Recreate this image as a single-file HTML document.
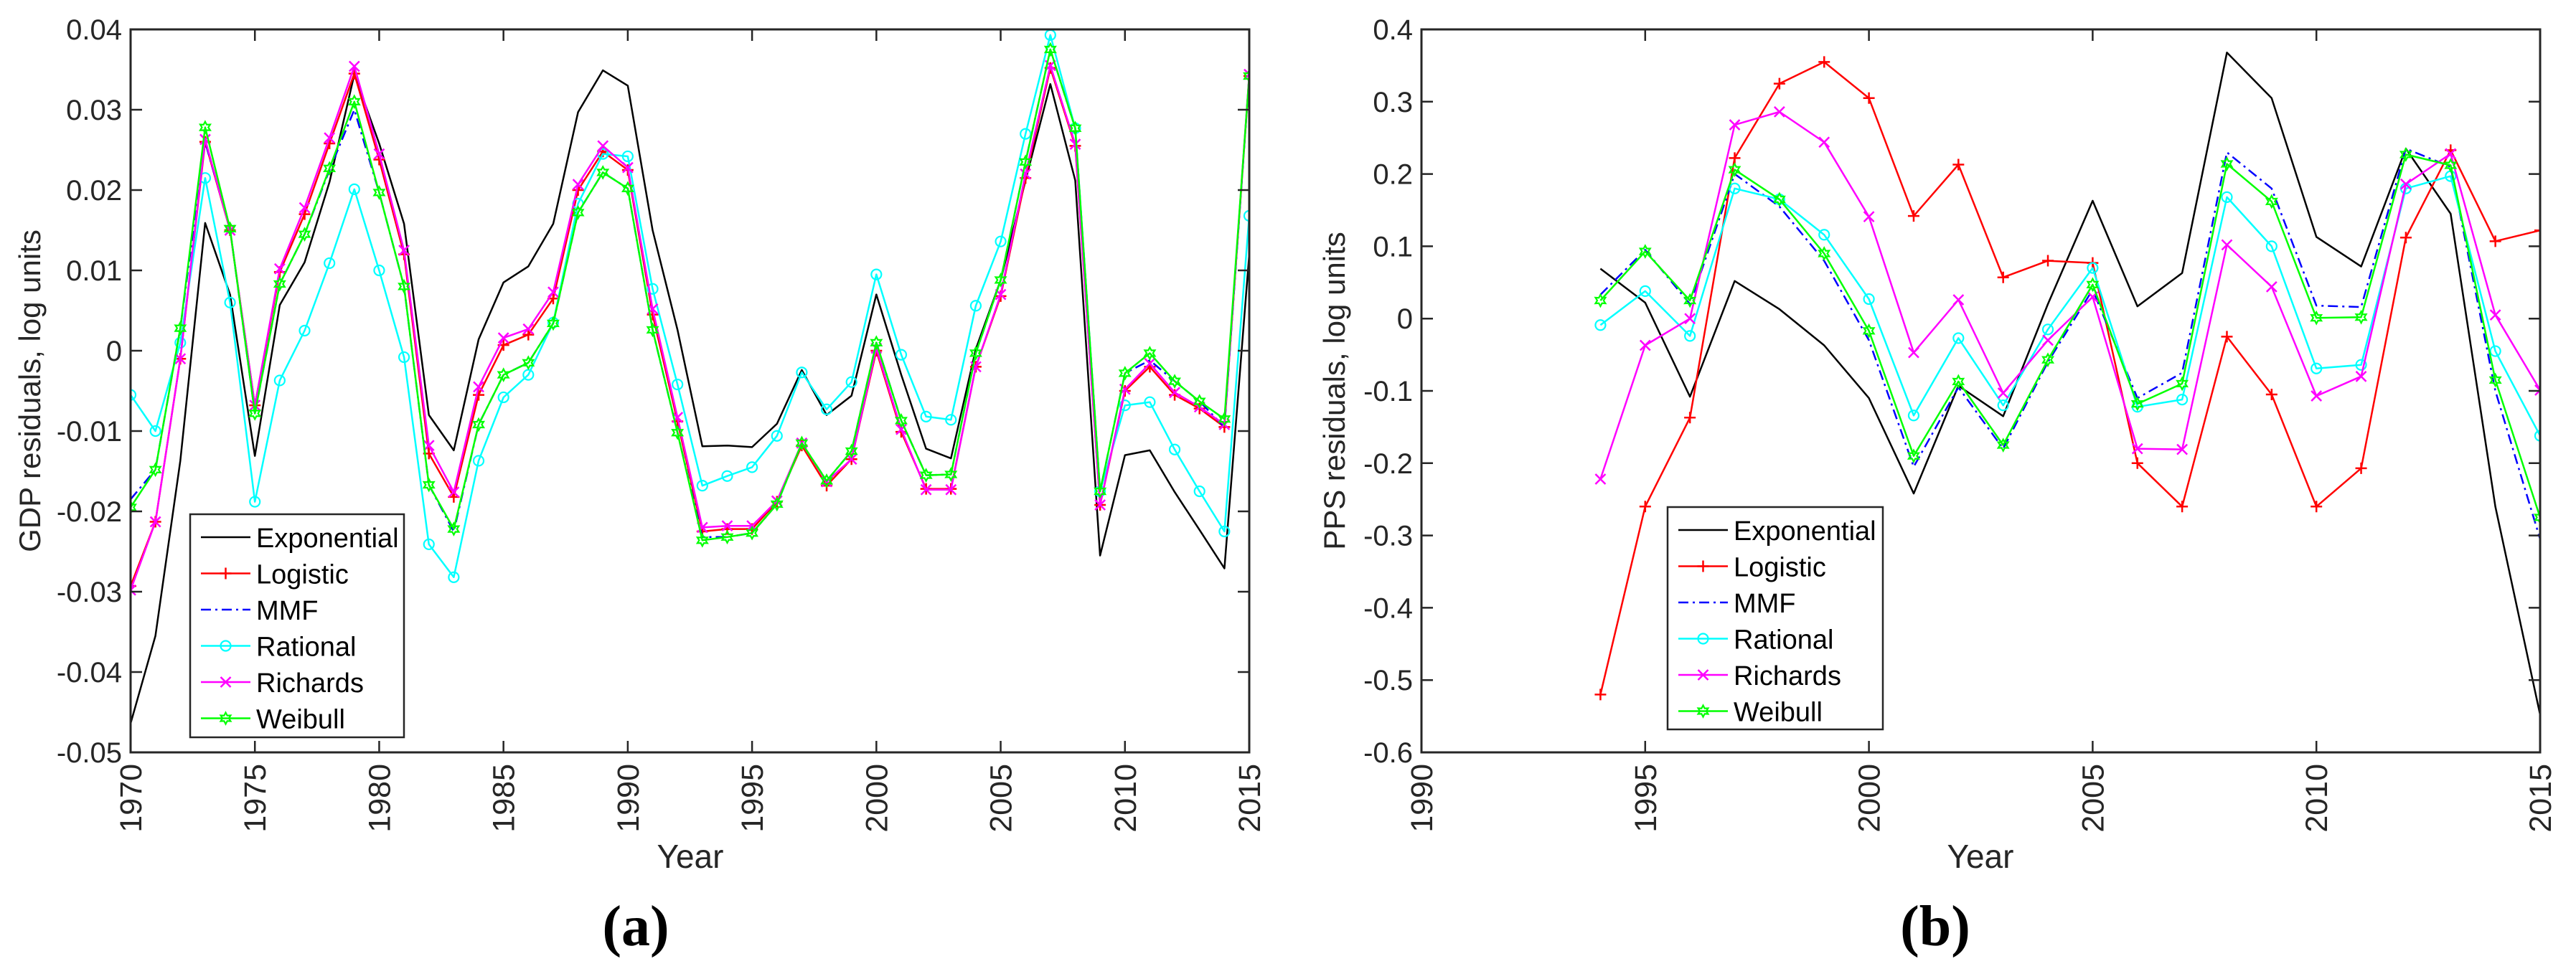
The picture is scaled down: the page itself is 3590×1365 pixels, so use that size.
<!DOCTYPE html>
<html><head><meta charset="utf-8">
<style>
html,body{margin:0;padding:0;background:#fff;}
svg{display:block;font-family:"Liberation Sans",sans-serif;}
</style></head>
<body>
<svg id="fig" width="3590" height="1365" viewBox="0 0 3590 1365" xmlns="http://www.w3.org/2000/svg">
<rect width="3590" height="1365" fill="#fff"/>
</svg>
<script>
// ---- Panel (a) data: GDP residuals ----
const yearsA = [1970,1971,1972,1973,1974,1975,1976,1977,1978,1979,1980,1981,1982,1983,1984,1985,1986,1987,1988,1989,1990,1991,1992,1993,1994,1995,1996,1997,1998,1999,2000,2001,2002,2003,2004,2005,2006,2007,2008,2009,2010,2011,2012,2013,2014,2015];
const expA = [-0.0464,-0.0355,-0.0137,0.0159,0.007,-0.0131,0.0057,0.011,0.021,0.0344,0.0258,0.0158,-0.008,-0.0124,0.0014,0.0085,0.0105,0.0158,0.0297,0.0349,0.033,0.015,0.0026,-0.0119,-0.0118,-0.012,-0.0091,-0.0024,-0.008,-0.0056,0.007,-0.003,-0.0122,-0.0134,0.0002,0.0088,0.0212,0.0332,0.0212,-0.0255,-0.013,-0.0124,-0.0176,-0.0223,-0.0271,0.012];
const logA = [-0.0293,-0.0213,-0.001,0.026,0.015,-0.0068,0.0098,0.017,0.0258,0.0345,0.0238,0.012,-0.0128,-0.0182,-0.0055,0.0007,0.002,0.0065,0.02,0.0248,0.0225,0.0045,-0.0088,-0.0225,-0.0222,-0.0222,-0.0188,-0.0118,-0.0168,-0.0135,0.0,-0.0101,-0.0172,-0.0172,-0.002,0.0068,0.0215,0.0352,0.0255,-0.0192,-0.005,-0.002,-0.0055,-0.0072,-0.0095,0.0342];
const mmfA = [-0.0185,-0.0148,0.0028,0.026,0.0152,-0.0078,0.0083,0.0145,0.0225,0.030,0.0197,0.008,-0.0167,-0.0225,-0.0092,-0.003,-0.0015,0.0034,0.0172,0.0222,0.0202,0.0026,-0.0102,-0.0232,-0.0232,-0.0227,-0.0191,-0.0115,-0.0162,-0.0125,0.001,-0.0087,-0.0155,-0.0154,-0.0003,0.0088,0.0235,0.0375,0.0277,-0.0175,-0.0028,-0.0012,-0.0038,-0.0063,-0.0095,0.0342];
const ratA = [-0.0055,-0.01,0.001,0.0215,0.006,-0.0188,-0.0037,0.0025,0.0109,0.0201,0.01,-0.0008,-0.0241,-0.0282,-0.0137,-0.0058,-0.003,0.0035,0.0183,0.0245,0.0242,0.0077,-0.0042,-0.0168,-0.0156,-0.0145,-0.0106,-0.0027,-0.0073,-0.0039,0.0095,-0.0005,-0.0082,-0.0086,0.0056,0.0136,0.027,0.0393,0.0277,-0.0175,-0.0068,-0.0064,-0.0123,-0.0175,-0.0225,0.0168];
const ricA = [-0.0298,-0.0213,-0.001,0.0263,0.015,-0.0068,0.0102,0.0178,0.0265,0.0354,0.0245,0.0125,-0.0118,-0.0176,-0.0045,0.0016,0.0027,0.0073,0.0207,0.0255,0.0228,0.0052,-0.0083,-0.022,-0.0218,-0.0218,-0.0187,-0.0115,-0.0163,-0.0135,0.0003,-0.0098,-0.0173,-0.0173,-0.002,0.007,0.022,0.0355,0.0257,-0.0192,-0.0048,-0.0016,-0.0052,-0.007,-0.0092,0.0344];
const weiA = [-0.0195,-0.0148,0.0028,0.0278,0.0152,-0.0078,0.0083,0.0145,0.0227,0.031,0.0197,0.008,-0.0167,-0.0222,-0.0092,-0.003,-0.0015,0.0034,0.0172,0.0222,0.0202,0.0026,-0.0102,-0.0236,-0.0232,-0.0227,-0.0191,-0.0115,-0.0162,-0.0125,0.001,-0.0087,-0.0155,-0.0154,-0.0003,0.0088,0.0235,0.0375,0.0277,-0.0175,-0.0028,-0.0003,-0.0038,-0.0063,-0.0085,0.0342];
const xTicksA = [1970,1975,1980,1985,1990,1995,2000,2005,2010,2015];
const yTicksA = [0.04,0.03,0.02,0.01,0,-0.01,-0.02,-0.03,-0.04,-0.05];
const yTickLabelsA = ["0.04","0.03","0.02","0.01","0","-0.01","-0.02","-0.03","-0.04","-0.05"];

// ---- Panel (b) data: PPS residuals ----
const yearsB = [1994,1995,1996,1997,1998,1999,2000,2001,2002,2003,2004,2005,2006,2007,2008,2009,2010,2011,2012,2013,2014,2015];
const expB = [0.069,0.022,-0.108,0.052,0.013,-0.037,-0.11,-0.242,-0.093,-0.135,0.02,0.163,0.017,0.063,0.368,0.305,0.113,0.072,0.235,0.145,-0.26,-0.548];
const logB = [-0.52,-0.26,-0.137,0.222,0.325,0.355,0.305,0.142,0.213,0.057,0.08,0.077,-0.2,-0.26,-0.025,-0.105,-0.26,-0.207,0.112,0.233,0.107,0.122];
const mmfB = [0.033,0.095,0.02,0.2,0.155,0.08,-0.03,-0.205,-0.095,-0.18,-0.06,0.04,-0.11,-0.075,0.23,0.18,0.018,0.016,0.235,0.21,-0.1,-0.305];
const ratB = [-0.009,0.038,-0.024,0.18,0.165,0.116,0.027,-0.134,-0.027,-0.12,-0.015,0.07,-0.122,-0.112,0.168,0.1,-0.069,-0.064,0.18,0.197,-0.045,-0.162];
const ricB = [-0.222,-0.037,0.0,0.268,0.286,0.244,0.141,-0.047,0.026,-0.103,-0.03,0.03,-0.18,-0.181,0.102,0.044,-0.107,-0.08,0.186,0.228,0.005,-0.099];
const weiB = [0.025,0.093,0.025,0.206,0.165,0.09,-0.017,-0.19,-0.087,-0.175,-0.057,0.047,-0.118,-0.09,0.214,0.162,0.001,0.002,0.227,0.212,-0.085,-0.275];
const xTicksB = [1990,1995,2000,2005,2010,2015];
const yTicksB = [0.4,0.3,0.2,0.1,0,-0.1,-0.2,-0.3,-0.4,-0.5,-0.6];
const yTickLabelsB = ["0.4","0.3","0.2","0.1","0","-0.1","-0.2","-0.3","-0.4","-0.5","-0.6"];

const seriesNames = ["Exponential","Logistic","MMF","Rational","Richards","Weibull"];

const NS = "http://www.w3.org/2000/svg";
const svg = document.getElementById('fig');
function mk(tag, attrs, parent){
  const e = document.createElementNS(NS, tag);
  for (const k in attrs) e.setAttribute(k, attrs[k]);
  (parent||svg).appendChild(e);
  return e;
}
const styles = {
  Exponential:{color:"#000000", dash:null, marker:null},
  Logistic:{color:"#ff0000", dash:null, marker:"plus"},
  MMF:{color:"#0000ff", dash:"14,6,3,6", marker:null},
  Rational:{color:"#00ffff", dash:null, marker:"circle"},
  Richards:{color:"#ff00ff", dash:null, marker:"x"},
  Weibull:{color:"#00ff00", dash:null, marker:"hex"}
};
function drawMarker(g, type, x, y, color){
  const s = 8;
  let m;
  if (type==="plus"){
    m = mk('path',{d:`M${x-s},${y}H${x+s}M${x},${y-s}V${y+s}`,stroke:color,'stroke-width':2.5,fill:'none'},g);
  } else if (type==="x"){
    const t=7;
    m = mk('path',{d:`M${x-t},${y-t}L${x+t},${y+t}M${x-t},${y+t}L${x+t},${y-t}`,stroke:color,'stroke-width':2.5,fill:'none'},g);
  } else if (type==="circle"){
    m = mk('circle',{cx:x,cy:y,r:7,stroke:color,'stroke-width':2.2,fill:'none'},g);
  } else if (type==="hex"){
    const r=8, a=[];
    for (let i=0;i<12;i++){
      const ang = -Math.PI/2 + i*Math.PI/6;
      const rr = i%2===0 ? r : r*0.55;
      a.push((x+rr*Math.cos(ang)).toFixed(1)+','+(y+rr*Math.sin(ang)).toFixed(1));
    }
    m = mk('polygon',{points:a.join(' '),stroke:color,'stroke-width':2.2,fill:'none'},g);
  }
  if (m){
    
    
  }
}

function panel(cfg){
  const {id,L,R,T,B,x0,x1,y0,y1,years,series,xTicks,yTicks,yLabels,ylabel,ylabX,legend,letter,letterX,yearX} = cfg;
  const sx = v => L + (v-x0)/(x1-x0)*(R-L);
  const sy = v => T + (y1-v)/(y1-y0)*(B-T);
  const g = mk('g',{});
  
  
  // series
  const clip = mk('clipPath',{id:id+'-clip'},g);
  mk('rect',{x:L,y:T,width:R-L,height:B-T},clip);
  const sg = mk('g',{'clip-path':`url(#${id}-clip)`},g);
  seriesNames.forEach((name,si)=>{
    const st = styles[name];
    const vals = series[si];
    const pts = years.map((yr,i)=>sx(yr).toFixed(1)+','+sy(vals[i]).toFixed(1)).join(' ');
    const pl = mk('polyline',{points:pts,fill:'none',stroke:st.color,'stroke-width':2.5,'stroke-linejoin':'round'},sg);
    if (st.dash) pl.setAttribute('stroke-dasharray', st.dash);
    
    
    if (st.marker) years.forEach((yr,i)=>drawMarker(sg, st.marker, sx(yr), sy(vals[i]), st.color));
  });
  // axes box
  const box = mk('rect',{x:L,y:T,width:R-L,height:B-T,fill:'none',stroke:'#262626','stroke-width':3},g);
  
  
  const tl = 16;
  xTicks.forEach(v=>{
    const x = sx(v);
    mk('path',{d:`M${x},${B}V${B-tl}M${x},${T}V${T+tl}`,stroke:'#262626','stroke-width':2.5},g);
    const t = mk('text',{x:0,y:0,transform:`translate(${x+15},${B+16}) rotate(-90)`,'text-anchor':'end','font-size':43,fill:'#262626'},g);
    t.textContent = v;
    
    
  });
  yTicks.forEach((v,i)=>{
    const y = sy(v);
    mk('path',{d:`M${L},${y}H${L+tl}M${R},${y}H${R-tl}`,stroke:'#262626','stroke-width':2.5},g);
    const t = mk('text',{x:L-12,y:y+14,'text-anchor':'end','font-size':40,fill:'#262626'},g);
    t.textContent = yLabels[i];
    
    
  });
  const xt = mk('text',{x:yearX,y:1210,'text-anchor':'middle','font-size':46,fill:'#262626'},g);
  xt.textContent = 'Year';
  
  
  const yt = mk('text',{x:0,y:0,transform:`translate(${ylabX},${(T+B)/2}) rotate(-90)`,'text-anchor':'middle','font-size':42,fill:'#262626'},g);
  yt.textContent = ylabel;
  
  
  // legend
  const lg = mk('g',{},g);
  
  
  mk('rect',{x:legend.x,y:legend.y,width:legend.w,height:legend.h,fill:'#fff',stroke:'#262626','stroke-width':2.5},lg);
  seriesNames.forEach((name,i)=>{
    const st = styles[name];
    const cy = legend.y + 32 + i*50.5;
    const lx0 = legend.x+15, lx1 = legend.x+84;
    const ln = mk('line',{x1:lx0,y1:cy,x2:lx1,y2:cy,stroke:st.color,'stroke-width':2.5},lg);
    if (st.dash) ln.setAttribute('stroke-dasharray', st.dash);
    
    
    if (st.marker) drawMarker(lg, st.marker, (lx0+lx1)/2, cy, st.color);
    const t = mk('text',{x:legend.x+92,y:cy+14,'font-size':38,fill:'#000'},lg);
    t.textContent = name;
    
    
  });
  const lt = mk('text',{x:letterX,y:1318,'text-anchor':'middle','font-size':80,'font-weight':'bold','font-family':'"Liberation Serif",serif',fill:'#000'},g);
  lt.textContent = letter;
  
  
}

panel({id:'gdp',L:182,R:1741,T:41,B:1049,x0:1970,x1:2015,y0:-0.05,y1:0.04,
  years:yearsA,series:[expA,logA,mmfA,ratA,ricA,weiA],xTicks:xTicksA,yTicks:yTicksA,yLabels:yTickLabelsA,
  ylabel:'GDP residuals, log units',ylabX:56,legend:{x:265,y:717,w:298,h:311},letter:'(a)',letterX:886,yearX:962});
panel({id:'pps',L:1981,R:3540,T:41,B:1049,x0:1990,x1:2015,y0:-0.6,y1:0.4,
  years:yearsB,series:[expB,logB,mmfB,ratB,ricB,weiB],xTicks:xTicksB,yTicks:yTicksB,yLabels:yTickLabelsB,
  ylabel:'PPS residuals, log units',ylabX:1874,legend:{x:2324,y:707,w:300,h:310},letter:'(b)',letterX:2697,yearX:2760});
</script>
</body></html>
